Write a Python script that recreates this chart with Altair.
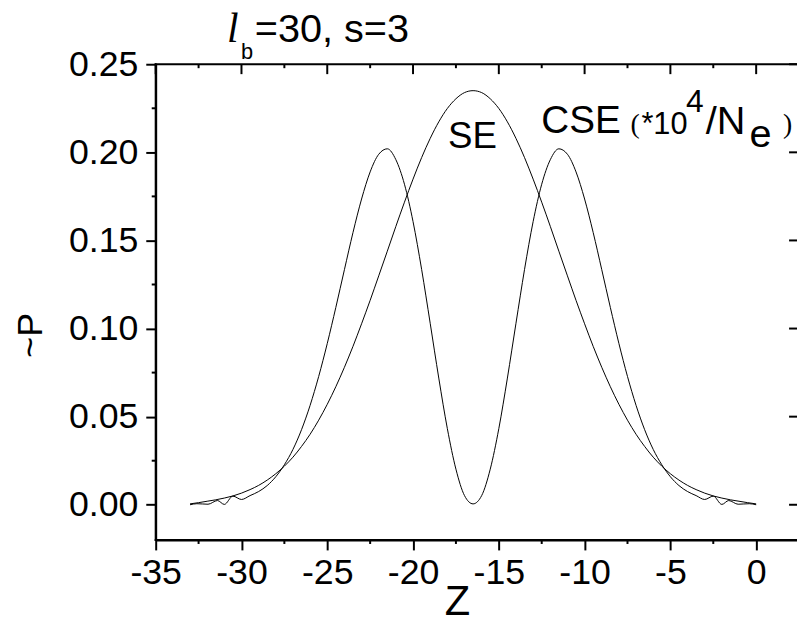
import altair as alt
import pandas as pd

# ---- data ----
se_z = [-33.0, -32.5, -32.0, -31.5, -31.0, -30.5, -30.0, -29.5, -29.0, -28.5, -28.0, -27.5,
        -27.0, -26.5, -26.0, -25.5, -25.0, -24.5, -24.0, -23.5, -23.0, -22.5, -22.0, -21.5,
        -21.0, -20.5, -20.0, -19.5, -19.0, -18.5, -18.0, -17.5, -17.0, -16.5, -16.0, -15.5,
        -15.0, -14.5, -14.0, -13.5, -13.0, -12.5, -12.0, -11.5, -11.0, -10.5, -10.0, -9.5,
        -9.0, -8.5, -8.0, -7.5, -7.0, -6.5, -6.0, -5.5, -5.0, -4.5, -4.0, -3.5, -3.0, -2.5,
        -2.0, -1.5, -1.0, -0.5, 0.0]
se_p = [0.0005, 0.0012, 0.0020, 0.0028, 0.0038, 0.0050, 0.0066, 0.0086, 0.0110, 0.0140, 0.0176,
        0.0219, 0.0270, 0.0331, 0.0400, 0.0480, 0.0570, 0.0670, 0.0780, 0.0899, 0.1027, 0.1160,
        0.1299, 0.1439, 0.1580, 0.1717, 0.1848, 0.1970, 0.2079, 0.2173, 0.2249, 0.2304, 0.2339,
        0.2350, 0.2339, 0.2304, 0.2249, 0.2173, 0.2079, 0.1970, 0.1848, 0.1717, 0.1580, 0.1439,
        0.1299, 0.1160, 0.1027, 0.0899, 0.0780, 0.0670, 0.0570, 0.0480, 0.0400, 0.0331, 0.0270,
        0.0219, 0.0176, 0.0140, 0.0110, 0.0086, 0.0066, 0.0050, 0.0038, 0.0028, 0.0020, 0.0012,
        0.0005]

cse_z = [-33.0, -32.6, -31.95, -31.4, -31.0, -30.5, -30.0, -29.5, -29.0, -28.5, -28.0, -27.5,
         -27.0, -26.5, -26.0, -25.5, -25.0, -24.5, -24.0, -23.5, -23.0, -22.5, -22.0, -21.5,
         -21.0, -20.5, -20.0, -19.5, -19.0, -18.5, -18.0, -17.5, -17.0, -16.5, -16.0, -15.5,
         -15.0, -14.5, -14.0, -13.5, -13.0, -12.5, -12.0, -11.5, -11.0, -10.5, -10.0, -9.5,
         -9.0, -8.5, -8.0, -7.5, -7.0, -6.5, -6.0, -5.5, -5.0, -4.5, -4.0, -3.5, -3.0, -2.5,
         -2.0, -1.6, -1.05, -0.4, 0.0]
cse_p = [0.0000, 0.0006, 0.0003, 0.0024, 0.0002, 0.0049, 0.0030, 0.0052, 0.0075, 0.0109, 0.0159,
         0.0227, 0.0314, 0.0426, 0.0564, 0.0728, 0.0915, 0.1120, 0.1334, 0.1545, 0.1735, 0.1889,
         0.1989, 0.2020, 0.1958, 0.1819, 0.1607, 0.1336, 0.1030, 0.0719, 0.0432, 0.0202, 0.0052,
         0.0005, 0.0052, 0.0202, 0.0432, 0.0719, 0.1030, 0.1336, 0.1607, 0.1819, 0.1958, 0.2020,
         0.1989, 0.1889, 0.1735, 0.1545, 0.1334, 0.1120, 0.0915, 0.0728, 0.0564, 0.0426, 0.0314,
         0.0227, 0.0159, 0.0109, 0.0075, 0.0052, 0.0030, 0.0049, 0.0002, 0.0024, 0.0003, 0.0006,
         0.0000]

x_major = [-35, -30, -25, -20, -15, -10, -5, 0]
x_minor = [-32.5, -27.5, -22.5, -17.5, -12.5, -7.5, -2.5]
y_major = [0.0, 0.05, 0.10, 0.15, 0.20, 0.25]
y_minor = [0.025, 0.075, 0.125, 0.175, 0.225]

df = pd.concat([
    pd.DataFrame({"z": se_z, "p": se_p, "s": "SE"}),
    pd.DataFrame({"z": cse_z, "p": cse_p, "s": "CSE"}),
], ignore_index=True)

SANS = "Liberation Sans"
SERIF = "Liberation Serif"
W, H = 647, 480

xs = alt.Scale(domain=[-35, 2.38], nice=False, zero=False)
ys = alt.Scale(domain=[-0.02, 0.25], nice=False, zero=False)

ax_x = alt.Axis(values=x_major, grid=False, tickSize=10, tickWidth=2, tickColor="black",
                domain=True, domainWidth=2, domainColor="black", labelFont=SANS,
                labelFontSize=36, labelColor="black", labelPadding=6, labelFlush=False,
                labelOverlap=False, labelBound=False,
                labelExpr="datum.value < 0 ? '-' + abs(datum.value) : '' + datum.value",
                title="Z", titleFont=SANS, titleFontSize=42, titleFontWeight="normal",
                titleColor="black", titleX=304, titleY=75, titleBaseline="alphabetic",
                titleAlign="center")
ax_y = alt.Axis(values=y_major, format=".2f", grid=False, tickSize=10, tickWidth=2,
                tickColor="black", domain=True, domainWidth=2, domainColor="black",
                labelFont=SANS, labelFontSize=36, labelColor="black", labelPadding=8,
                labelOverlap=False, labelBound=False, labelFlush=False,
                title="~P", titleFont=SANS, titleFontSize=36, titleFontWeight="normal",
                titleColor="black", titleX=-115, titleY=273, titleAngle=270,
                titleBaseline="alphabetic", titleAlign="center")

curves = alt.Chart(df).mark_line(color="black", strokeWidth=1, interpolate="monotone").encode(
    x=alt.X("z:Q", scale=xs, axis=ax_x),
    y=alt.Y("p:Q", scale=ys, axis=ax_y),
    detail="s:N",
)


def xticks(values, y0, y1):
    return alt.Chart(pd.DataFrame({"z": values})).mark_rule(color="black", strokeWidth=2).encode(
        x=alt.X("z:Q", scale=xs, axis=ax_x), y=alt.value(y0), y2=alt.value(y1))


def yticks(values, x0, x1):
    return alt.Chart(pd.DataFrame({"p": values})).mark_rule(color="black", strokeWidth=2).encode(
        y=alt.Y("p:Q", scale=ys, axis=ax_y), x=alt.value(x0), x2=alt.value(x1))


top_major = xticks(x_major, 0, 10)
top_minor = xticks(x_minor, 0, 4)
bottom_minor = xticks(x_minor, H, H + 4)
left_minor = yticks(y_minor, -4, 0)
right_major = yticks(y_major, W - 8, W)

# frame drawn as thin filled bars (left, top, bottom)
frame_df = pd.DataFrame({"k": [0]})


def bar(x0, x1, y0, y1):
    return alt.Chart(frame_df).mark_rect(color="black", fill="black", opacity=1).encode(
        x=alt.value(x0), x2=alt.value(x1), y=alt.value(y0), y2=alt.value(y1))


top_bar = bar(-1, W + 1, -1, 1)
left_bar = bar(-1, 1, -1, H + 1)
bottom_bar = bar(-1, W + 1, H - 1, H + 1)

# ---- annotation text ----
ann_text = ["l", "b", "=30, s=3", "SE", "CSE", "(", "*10", "4", "/N", "e", ")"]
ann_font = [SERIF, SANS, SANS, SANS, SANS, SERIF, SANS, SANS, SANS, SANS, SERIF]
ann_style = ["italic", "normal", "normal", "normal", "normal", "normal", "normal", "normal",
             "normal", "normal", "normal"]
ann_size = [42, 22, 40, 37, 39, 28, 31, 32, 40, 40, 28]
ann_x = [72, 86, 100, 295, 389, 479, 490, 535, 555, 599, 633]
ann_y = [-22, -5, -22, 85, 69, 69, 70, 48, 70, 84, 69]

texts = []
for t, f, st, sz, x, y in zip(ann_text, ann_font, ann_style, ann_size, ann_x, ann_y):
    texts.append(
        alt.Chart(pd.DataFrame({"t": [t]})).mark_text(
            font=f, fontStyle=st, fontSize=sz, align="left", baseline="alphabetic",
            color="black"
        ).encode(text="t:N", x=alt.value(x), y=alt.value(y))
    )

chart = alt.layer(
    curves, top_bar, left_bar, bottom_bar, top_major, top_minor, bottom_minor, left_minor,
    right_major, *texts
).properties(
    width=W, height=H,
    autosize=alt.AutoSizeParams(type="none"),
    padding={"left": 149, "top": 54, "right": 0, "bottom": 80},
).configure_view(stroke=None)

chart.save("out.html", embed_options={"renderer": "svg", "actions": False})
